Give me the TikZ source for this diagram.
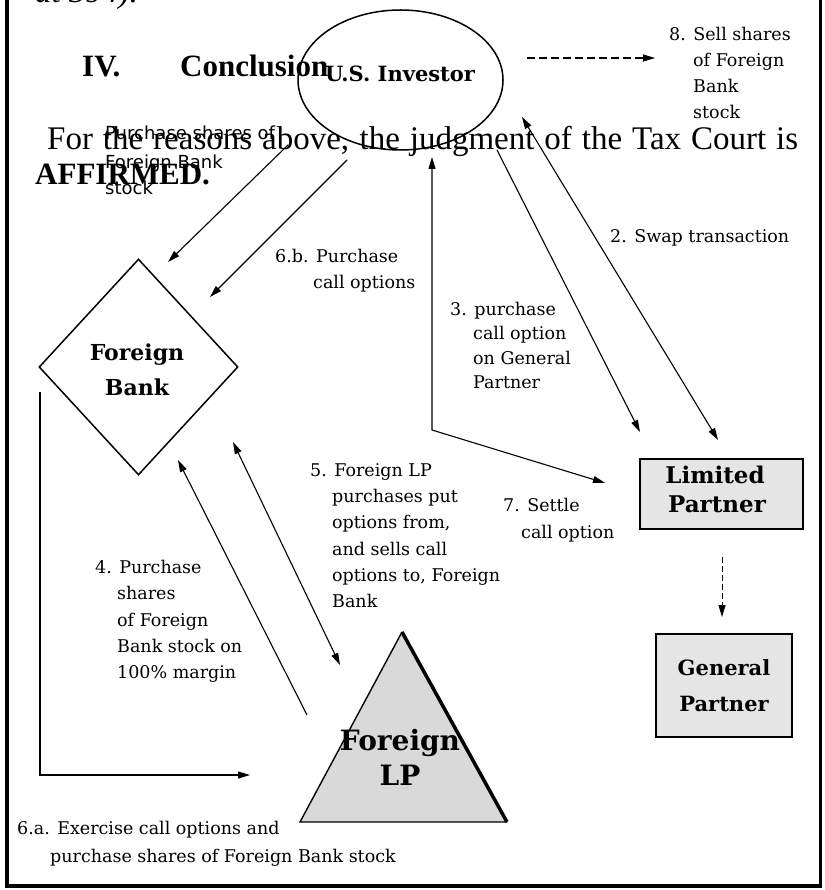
\documentclass[tikz,border=0pt]{standalone}
\usepackage{fontspec}
\setmainfont{Liberation Serif}
\newfontfamily\lblfam{DejaVu Serif}
\newfontfamily\sansfam{DejaVu Sans}
\usetikzlibrary{arrows.meta,shapes.geometric}
\tikzset{
  tipa/.style={-{Triangle[length=12pt,width=7pt]}},
  conn/.style={line width=1.1pt, tipa},
  conntwo/.style={line width=1.1pt, {Triangle[length=12pt,width=7pt]}-{Triangle[length=12pt,width=7pt]}},
  dconn/.style={line width=1.1pt, dash pattern=on 8pt off 4pt, tipa},
  lbl/.style={anchor=base west, inner sep=0pt, font=\lblfam\fontsize{17.5}{21}\selectfont},
  ent/.style={anchor=base, inner sep=0pt, font=\lblfam\bfseries\fontsize{#1}{#1}\selectfont},
  court/.style={anchor=base west, inner sep=0pt, font=\fontsize{33}{37}\selectfont},
  courtb/.style={anchor=base west, inner sep=0pt, font=\bfseries\fontsize{31}{35}\selectfont},
  smallsans/.style={anchor=base west, inner sep=0pt, font=\sansfam\fontsize{18}{21}\selectfont},
  boxnode/.style={draw, line width=2pt, fill=black!10, inner sep=0pt},
}
\begin{document}
\begin{tikzpicture}[x=1pt,y=-1pt]
\useasboundingbox (0,0) rectangle (824,890);
% frame
\draw[line width=4pt] (7,-5) -- (7,886);
\draw[line width=3.5pt] (5,886) -- (822,886);
\draw[line width=3pt] (820,-5) -- (820,886);

% entities
\node[ellipse, draw, line width=1.5pt, minimum width=205pt, minimum height=140pt, inner sep=0pt] (inv) at (400.5,80) {};
\node[ent=21] (invt) at (400,82) {U.S. Investor};

\node[diamond, draw, line width=1.5pt, minimum width=199pt, minimum height=216pt, inner sep=0pt] (bank) at (138.5,367) {};
\node[ent=22] (bankt1) at (137,360) {Foreign};
\node[ent=22] (bankt2) at (137,395) {Bank};

\coordinate (lpA) at (402,632);
\coordinate (lpL) at (300,822);
\coordinate (lpR) at (507,822);
\fill[black!15] (lpA) -- (lpL) -- (lpR) -- cycle;
\draw[line width=1.4pt, line join=miter] (lpA) -- (lpL) -- (lpR);
\draw[line width=3.5pt] (lpA) -- (lpR);
\node[ent=28] (lpt1) at (400,750) {Foreign};
\node[ent=28] (lpt2) at (400,785) {LP};

\node[boxnode, minimum width=163pt, minimum height=70pt] (lim) at (721.5,494) {};
\node[ent=23] (limt1) at (715,483) {Limited};
\node[ent=23] (limt2) at (717,512) {Partner};

\node[boxnode, minimum width=136pt, minimum height=103pt] (gen) at (724,685.5) {};
\node[ent=21] (gent1) at (724,675) {General};
\node[ent=21] (gent2) at (724,711) {Partner};

% connector end points
\coordinate (a1s) at (288,145);  \coordinate (a1e) at (168,262);
\coordinate (a6bs) at (347,160); \coordinate (a6be) at (210,297);
\coordinate (a7t) at (432,157);  \coordinate (a7c) at (432,430); \coordinate (a7e) at (605,483);
\coordinate (a3s) at (497,150);  \coordinate (a3e) at (640,432);
\coordinate (a2s) at (522,117);  \coordinate (a2e) at (718,440);
\coordinate (a8s) at (527,58);   \coordinate (a8e) at (655,58);
\coordinate (ags) at (722,557);  \coordinate (age) at (722,617);
\coordinate (a6as) at (40,392);  \coordinate (a6ac) at (40,775); \coordinate (a6ae) at (250,775);
\coordinate (a4s) at (307,715);  \coordinate (a4e) at (178,460);
\coordinate (a5s) at (233,442);  \coordinate (a5e) at (340,665);

% connectors
\draw[conn] (a1s) -- (a1e);
\draw[conn] (a6bs) -- (a6be);
\draw[conntwo] (a7t) -- (a7c) -- (a7e);
\draw[conn] (a3s) -- (a3e);
\draw[conntwo] (a2s) -- (a2e);
\draw[dconn] (a8s) -- (a8e);
\draw[line width=1pt, dash pattern=on 6pt off 3pt, tipa] (ags) -- (age);
\draw[conn] (a6as) -- (a6ac) -- (a6ae);
\draw[conn] (a4s) -- (a4e);
\draw[conntwo] (a5s) -- (a5e);

% labels
\node[lbl] (l8a) at (669,41) {8. Sell shares};
\node[lbl] (l8b) at (693,67) {of Foreign};
\node[lbl] (l8c) at (693,93) {Bank};
\node[lbl] (l8d) at (693,119) {stock};

\node[lbl] (l2) at (610,243) {2. Swap transaction};

\node[lbl] (l6ba) at (275,262) {6.b. Purchase};
\node[lbl] (l6bb) at (313,288) {call options};

\node[lbl] (l3a) at (450,315) {3. purchase};
\node[lbl] (l3b) at (473,339) {call option};
\node[lbl] (l3c) at (473,364) {on General};
\node[lbl] (l3d) at (473,388) {Partner};

\node[lbl] (l5a) at (310,476) {5. Foreign LP};
\node[lbl] (l5b) at (332,502) {purchases put};
\node[lbl] (l5c) at (332,528) {options from,};
\node[lbl] (l5d) at (332,555) {and sells call};
\node[lbl] (l5e) at (332,581) {options to, Foreign};
\node[lbl] (l5f) at (332,607) {Bank};

\node[lbl] (l7a) at (503,511) {7. Settle};
\node[lbl] (l7b) at (521,538) {call option};

\node[lbl] (l4a) at (95,573) {4. Purchase};
\node[lbl] (l4b) at (117,599) {shares};
\node[lbl] (l4c) at (117,626) {of Foreign};
\node[lbl] (l4d) at (117,652) {Bank stock on};
\node[lbl] (l4e) at (117,678) {100\% margin};

\node[lbl] (l6aa) at (17,834) {6.a. Exercise call options and};
\node[lbl] (l6ab) at (50,862) {purchase shares of Foreign Bank stock};

\node[smallsans] (ps1) at (105,140) {Purchase shares of};
\node[smallsans] (ps2) at (105,169) {Foreign Bank};
\node[smallsans] (ps3) at (105,195) {stock};

% overlaid opinion text
\node[court] (atl) at (35,3) {\itshape at 394).};
\node[courtb] (hiv) at (82,77) {IV.};
\node[courtb] (hconc) at (180,77) {Conclusion};
\node[court] (para) at (47,150) {\makebox[751pt][s]{For the reasons above, the judgment of the Tax Court is}};
\node[courtb] (aff) at (35,185) {AFFIRMED.};
\end{tikzpicture}
\end{document}
